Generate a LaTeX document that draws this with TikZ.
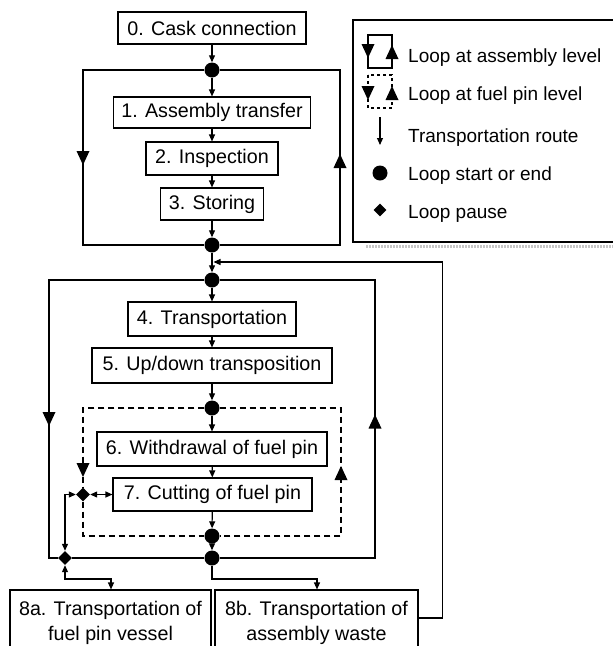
\documentclass[tikz,border=0pt]{standalone}
\usepackage{fontspec}
\setmainfont{Liberation Sans}
\usetikzlibrary{arrows.meta,shapes.geometric}
\begin{document}
\begin{tikzpicture}[x=1pt,y=-1pt,
  box/.style={draw,line width=1.1pt,inner sep=0pt,align=center,font=\fontsize{19.7}{25}\selectfont},
  dot/.style={circle,fill,inner sep=0pt,minimum size=15pt},
  dia/.style={diamond,fill,inner sep=0pt,minimum size=14pt},
  conn/.style={line width=1.1pt},
  arr/.style={conn,-{Triangle[length=7pt,width=6pt]}},
  arrr/.style={conn,{Triangle[length=7pt,width=6pt]}-{Triangle[length=7pt,width=6pt]}},
  dsh/.style={conn,dash pattern=on 6pt off 4pt},
  lgtext/.style={anchor=base west,inner sep=0pt,font=\fontsize{19}{22}\selectfont},
  tridown/.pic={\fill (-6.5,-7)--(6.5,-7)--(0,7)--cycle;},
  triup/.pic={\fill (-6.5,7)--(6.5,7)--(0,-7)--cycle;}
]
\useasboundingbox (0,0) rectangle (613,646);

% boxes
\node[box,minimum width=188pt,minimum height=32pt] (b0) at (212,28) {0. Cask connection};
\node[dot] (d1) at (212,70) {};
\node[box,minimum width=197pt,minimum height=31pt] (b1) at (212,112.5) {1. Assembly transfer};
\node[box,minimum width=132pt,minimum height=33pt] (b2) at (212,158.5) {2. Inspection};
\node[box,minimum width=103pt,minimum height=32pt] (b3) at (212,204) {3. Storing};
\node[dot] (d2) at (212,245) {};
\node[dot] (d3) at (212,280) {};
\node[box,minimum width=168pt,minimum height=34pt] (b4) at (212,319) {4. Transportation};
\node[box,minimum width=240pt,minimum height=35pt] (b5) at (212,365.5) {5. Up/down transposition};
\node[dot] (d4) at (212,408) {};
\node[box,minimum width=230pt,minimum height=34pt] (b6) at (212,449) {6. Withdrawal of fuel pin};
\node[box,minimum width=199pt,minimum height=33pt] (b7) at (212.5,494.5) {7. Cutting of fuel pin};
\node[dia] (m1) at (83,494.5) {};
\node[dot] (d5) at (212,536) {};
\node[dot] (d6) at (212,558) {};
\node[dia] (m2) at (65,558) {};
\node[box,minimum width=201pt,minimum height=65pt] (b8a) at (110.5,622.5) {8a. Transportation of\\fuel pin vessel};
\node[box,minimum width=203pt,minimum height=65pt] (b8b) at (316.5,622.5) {8b. Transportation of\\assembly waste};

% main route
\draw[arr] (b0) -- (d1);
\draw[arr] (d1) -- (b1);
\draw[arr] (b1) -- (b2);
\draw[arr] (b2) -- (b3);
\draw[arr] (b3) -- (d2);
\draw[arr] (d2) -- (d3);
\draw[arr] (d3) -- (b4);
\draw[arr] (b4) -- (b5);
\draw[arr] (b5) -- (d4);
\draw[arr] (d4) -- (b6);
\draw[arr] (b6) -- (b7);
\draw[arr] (b7) -- (d5);
\draw[arr] (d5) -- (d6);

% loop 1 (assembly level)
\coordinate (l1l) at (83,158);
\coordinate (l1r) at (340,161);
\draw[conn] (d1) -| (l1l) |- (d2);
\draw[conn] (d1) -| (l1r) |- (d2);
\pic at (l1l) {tridown};
\pic at (l1r) {triup};

% loop 2 (assembly level)
\coordinate (l2l) at (49,419);
\coordinate (l2r) at (375,421.5);
\draw[conn] (d3) -| (l2l) |- (m2);
\draw[conn] (m2) -- (d6);
\draw[conn] (d3) -| (l2r) |- (d6);
\pic at (l2l) {tridown};
\pic at (l2r) {triup};

% fuel pin loop (dashed)
\coordinate (fl) at (83,470);
\coordinate (fr) at (341,473);
\draw[dsh] (d4) -| (fl) -- (m1);
\draw[dsh] (m1) |- (d5);
\draw[dsh] (d4) -| (fr) |- (d5);
\pic at (fl) {tridown};
\pic at (fr) {triup};

% pauses
\draw[arrr] (m1) -- (b7);
\draw[arrr] (m1) -| (m2);
\coordinate (k1) at (111,579);
\draw[arrr] (m2) |- (k1) -- (k1 |- b8a.north);
\coordinate (k2) at (317,579);
\draw[arr] (d6) |- (k2) -- (k2 |- b8b.north);

% return route
\coordinate (j1) at (213.5,262);
\draw[arr] ([yshift=4.5pt]b8b.east) -- ++(24,0) |- (j1);

% legend
\node[draw,line width=1.1pt,minimum width=262pt,minimum height=222pt,inner sep=0pt] (lg) at (484,131) {};
\draw[gray!45,line width=2.5pt,dash pattern=on 1.5pt off 1.5pt] (366,246.5) -- (613,246.5);
\draw[conn] (368,35) rectangle (392,68);
\pic at (368,51) {tridown};
\pic at (392,52) {triup};
\draw[conn,dash pattern=on 3pt off 3pt] (368,75) rectangle (392,108);
\pic at (368,93) {tridown};
\pic at (392,93) {triup};
\coordinate (la) at (380,117);
\coordinate (lb) at (380,145);
\draw[arr] (la) -- (lb);
\node[dot] (ld) at (380,173) {};
\node[dia,minimum size=13pt] (lm) at (380,210) {};
\node[lgtext] (t1) at (408,62) {Loop at assembly level};
\node[lgtext] (t2) at (408,100) {Loop at fuel pin level};
\node[lgtext] (t3) at (408,142) {Transportation route};
\node[lgtext] (t4) at (408,180) {Loop start or end};
\node[lgtext] (t5) at (408,218) {Loop pause};
\end{tikzpicture}
\end{document}
